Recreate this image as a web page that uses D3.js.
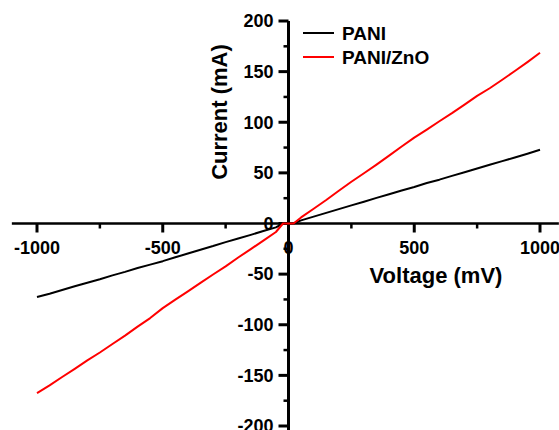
<!DOCTYPE html>
<html>
<head>
<meta charset="utf-8">
<script src="https://cdn.jsdelivr.net/npm/d3@7"></script>
<style>
  body { margin: 0; background: #fff; }
  svg { display: block; font-family: "Liberation Sans", Arial, sans-serif; font-weight: bold; }
</style>
</head>
<body>
<svg id="chart" width="559" height="430"></svg>
<script>
const width = 559;
const height = 430;

// ---- data ----
const voltage = [-1000,-950,-900,-850,-800,-750,-700,-650,-600,-550,-500,-450,-400,-350,-300,-250,-200,-150,-100,-50,-22,0,20,50,100,150,200,250,300,350,400,450,500,550,600,650,700,750,800,850,900,950,1000];
const pani = [-72.6,-69.3,-65.7,-62.0,-58.5,-55.1,-51.2,-47.8,-44.0,-40.6,-37.2,-33.4,-29.6,-25.9,-22.3,-18.4,-14.9,-11.2,-7.4,-3.8,0,0,0,3.1,6.8,10.5,14.2,17.9,21.5,25.3,28.9,32.6,36.1,40.0,43.3,47.0,50.6,54.3,58.0,61.6,65.2,68.9,72.8];
const paniZno = [-167.5,-159.8,-151.6,-143.5,-135.2,-127.4,-119.0,-110.8,-101.9,-93.4,-83.6,-75.2,-67.0,-58.6,-50.4,-42.4,-33.6,-25.3,-16.9,-8.4,0,0,0,6.0,14.6,23.2,32.4,41.2,49.6,58.2,67.0,76.0,84.8,92.8,101.0,109.0,117.4,126.0,133.6,142.0,150.6,159.4,168.6];

const seriesNames = ["PANI", "PANI/ZnO"];
const seriesColors = ["#000000", "#ff0000"];
const xMajor = [-1000, -500, 0, 500, 1000];
const xMinor = [-750, -250, 250, 750];
const yMajor = [-200, -150, -100, -50, 0, 50, 100, 150, 200];
const yMinor = [-175, -125, -75, -25, 25, 75, 125, 175];

const svg = d3.select("#chart");

const x = d3.scaleLinear().domain([-1000, 1000]).range([37, 540]);
const y = d3.scaleLinear().domain([-200, 200]).range([426, 21]);

//------------ Axes ------------------------------------------------------------//
const axisG = svg.append("g");

// x axis line (runs past the data range on both sides)
axisG.append("line")
    .attr("x1", x(-1100)).attr("x2", x(1075))
    .attr("y1", y(0)).attr("y2", y(0))
    .attr("stroke", "#000").attr("stroke-width", 2.5);

// y axis line
axisG.append("line")
    .attr("x1", x(0)).attr("x2", x(0))
    .attr("y1", y(200)).attr("y2", y(-204))
    .attr("stroke", "#000").attr("stroke-width", 3);

// x ticks
axisG.append("g").selectAll("line")
    .data(xMajor)
    .join("line")
    .attr("x1", d => x(d)).attr("x2", d => x(d))
    .attr("y1", y(0)).attr("y2", y(0) + 9)
    .attr("stroke", "#000").attr("stroke-width", 3);
axisG.append("g").selectAll("line")
    .data(xMinor)
    .join("line")
    .attr("x1", d => x(d)).attr("x2", d => x(d))
    .attr("y1", y(0)).attr("y2", y(0) + 5)
    .attr("stroke", "#000").attr("stroke-width", 2.5);

// y ticks
axisG.append("g").selectAll("line")
    .data(yMajor)
    .join("line")
    .attr("x1", x(0) - 10).attr("x2", x(0))
    .attr("y1", d => y(d)).attr("y2", d => y(d))
    .attr("stroke", "#000").attr("stroke-width", 3);
axisG.append("g").selectAll("line")
    .data(yMinor)
    .join("line")
    .attr("x1", x(0) - 5).attr("x2", x(0))
    .attr("y1", d => y(d)).attr("y2", d => y(d))
    .attr("stroke", "#000").attr("stroke-width", 2.5);

// tick labels
axisG.append("g").selectAll("text")
    .data(xMajor)
    .join("text")
    .attr("x", d => x(d))
    .attr("y", y(0) + 30)
    .attr("text-anchor", "middle")
    .attr("font-size", "18px")
    .text(d => d);

axisG.append("g").selectAll("text")
    .data(yMajor)
    .join("text")
    .attr("x", x(0) - 15)
    .attr("y", d => y(d))
    .attr("dy", "0.35em")
    .attr("text-anchor", "end")
    .attr("font-size", "18px")
    .text(d => d);

// axis titles
svg.append("text")
    .attr("x", 436)
    .attr("y", 283)
    .attr("text-anchor", "middle")
    .attr("font-size", "22px")
    .text("Voltage (mV)");

svg.append("text")
    .attr("transform", "translate(227,112) rotate(-90)")
    .attr("text-anchor", "middle")
    .attr("font-size", "22px")
    .text("Current (mA)");

//------------ Lines -----------------------------------------------------------//
const line = d3.line()
    .x(d => x(d[0]))
    .y(d => y(d[1]));

const series = [pani, paniZno];
series.forEach((vals, i) => {
    svg.append("path")
        .datum(voltage.map((v, j) => [v, vals[j]]))
        .attr("fill", "none")
        .attr("stroke", seriesColors[i])
        .attr("stroke-width", 2)
        .attr("stroke-linejoin", "round")
        .attr("d", line);
});

//------------ Legend ----------------------------------------------------------//
const legend = svg.append("g").attr("transform", "translate(303,33)");
const items = legend.selectAll("g")
    .data(seriesNames)
    .join("g")
    .attr("transform", (d, i) => `translate(0, ${i * 24})`);
items.append("line")
    .attr("x1", 0).attr("x2", 31)
    .attr("stroke", (d, i) => seriesColors[i])
    .attr("stroke-width", 2);
items.append("text")
    .attr("x", 39)
    .attr("dy", "0.35em")
    .attr("font-size", "19px")
    .text(d => d);
</script>
</body>
</html>
